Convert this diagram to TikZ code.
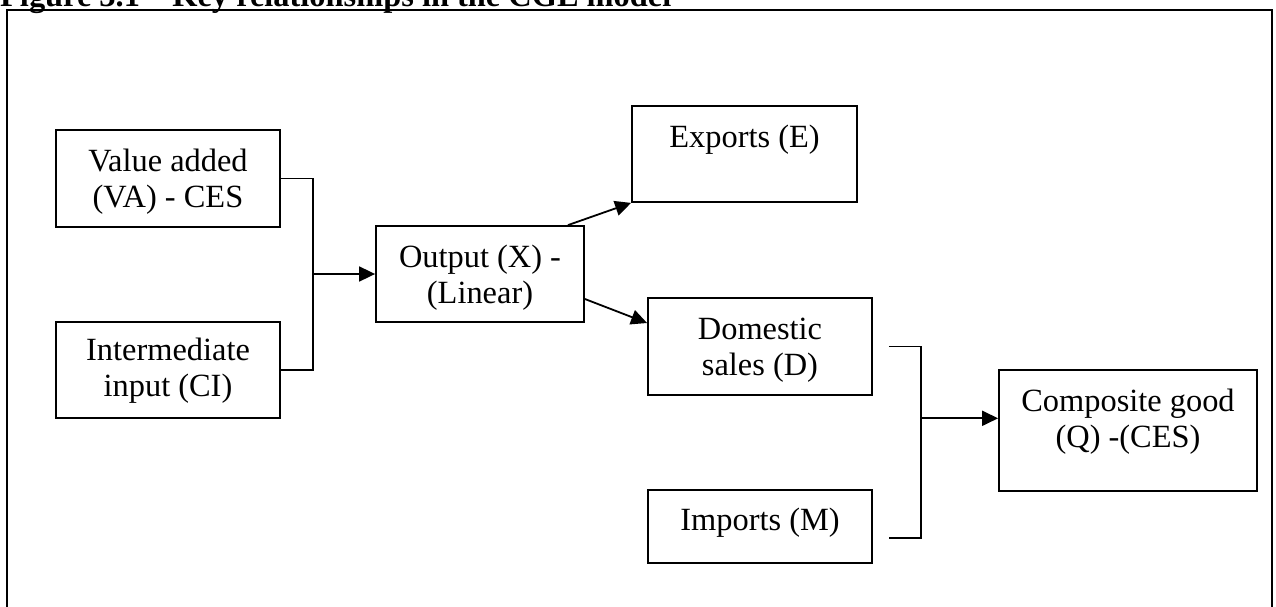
\documentclass[tikz,border=0pt]{standalone}
\usepackage{fontspec}
\setmainfont{Liberation Serif}
\usetikzlibrary{arrows.meta}
\begin{document}
\begin{tikzpicture}[x=1pt,y=-1pt,
  box/.style={draw, line width=1.8pt, rectangle, inner sep=0pt},
  txt/.style={align=center, inner sep=0pt, anchor=base, font=\fontsize{32.4}{36}\selectfont},
  conn/.style={line width=1.8pt},
  arr/.style={line width=1.8pt, -{Triangle[length=16pt,width=15pt]}}]
\useasboundingbox (0,0) rectangle (1276,607);
\clip (0,0) rectangle (1276,607);
\node[anchor=base west, inner sep=0pt, font=\bfseries\fontsize{32.4}{36}\selectfont] (title) at (0,6.5) {Figure 3.1 – Key relationships in the CGE model};
\draw[line width=2.2pt] (7,620) -- (7,10) -- (1272,10) -- (1272,620);
% boxes
\node[box, minimum width=224pt, minimum height=97pt] (va) at (168,178.5) {};
\node[box, minimum width=224pt, minimum height=96pt] (ci) at (168,370) {};
\node[box, minimum width=208pt, minimum height=96pt] (out) at (480,274) {};
\node[box, minimum width=225pt, minimum height=96pt] (exp) at (744.5,154) {};
\node[box, minimum width=224pt, minimum height=97pt] (dom) at (760,346.5) {};
\node[box, minimum width=224pt, minimum height=73pt] (imp) at (760,526.5) {};
\node[box, minimum width=258pt, minimum height=121pt] (comp) at (1128,430.5) {};
% texts (base anchor = baseline of last line)
\node[txt] (vat) at (168,207) {Value added\\(VA) - CES};
\node[txt] (cit) at (168,396.5) {Intermediate\\input (CI)};
\node[txt] (outt) at (480,303) {Output (X) -\\(Linear)};
\node[txt] (expt) at (744.5,147) {Exports (E)};
\node[txt] (domt) at (760,375.5) {Domestic\\sales (D)};
\node[txt] (impt) at (760,530.5) {Imports (M)};
\node[txt] (compt) at (1128,447) {Composite good\\(Q) -(CES)};
% connectors
\draw[conn] (va.east) -- ++(32,0) coordinate (b1) |- (ci.east);
\draw[arr] (b1 |- out.west) -- (out.west);
\draw[arr] ([xshift=88pt]out.north) -- (exp.south west);
\draw[arr] ([yshift=-25pt]out.east) -- ([yshift=23.5pt]dom.west);
\coordinate (b2t) at ([xshift=16pt]dom.east);
\coordinate (b2b) at ([xshift=16pt,yshift=-11.5pt]imp.east);
\draw[conn] (b2t) -- ++(32,0) coordinate (b2s) |- (b2b);
\coordinate (b2m) at (920,418.3);
\draw[arr] (b2m) -- (b2m -| comp.west);
\end{tikzpicture}
\end{document}
